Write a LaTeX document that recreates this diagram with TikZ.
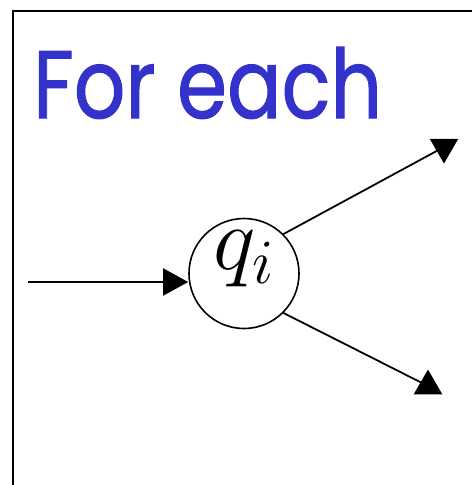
\documentclass[tikz,border=0pt]{standalone}
\usepackage{fix-cm}
\usepackage{fontspec}
\newfontfamily\handfont{Poppins}[FakeBold=1.2]
\usepackage{xcolor}
\definecolor{titleBlue}{HTML}{3333CC}
\definecolor{stateInk}{HTML}{000000}
\usetikzlibrary{positioning, arrows.meta, shapes.geometric}

\begin{document}
\begin{tikzpicture}[
  x=1pt, y=-1pt,
  state/.style = {circle, draw=stateInk, line width=1.6pt,
                  minimum size=110pt, inner sep=0pt},
  arrow/.style = {-{Triangle[length=25pt, width=27pt]}, line width=1.8pt,
                  color=stateInk},
  edge/.style  = {line width=1.8pt, color=stateInk},
  tiphead/.style = {regular polygon, regular polygon sides=3,
                    fill=stateInk, inner sep=0pt, minimum size=33pt},
  title/.style = {font=\handfont\fontsize{96}{96}\selectfont,
                  color=titleBlue, inner sep=0pt, anchor=base west},
]
\useasboundingbox (0,0) rectangle (472,485);

% Frame
\draw[line width=2pt] (12.5,485) -- (12.5,10.5) -- (472,10.5);

% Title
\node[title] (head) at (33,118) {\scalebox{0.84}[1]{For each}};

% State
\node[state] (q) at (244,273.5)
  {\raisebox{4pt}[0pt][0pt]{\fontsize{90}{90}\selectfont$q_i$}};

% Incoming
\coordinate (src) at (28,282);
\draw[arrow] (src) -- (src -| q.west);

% Outgoing
\node[tiphead, shape border rotate=180] (up)   at (444,147) {};
\node[tiphead]                          (down) at (428,386) {};
\draw[edge] (q.45)  -- (up.center);
\draw[edge] (q.-45) -- (down.center);

\end{tikzpicture}
\end{document}
